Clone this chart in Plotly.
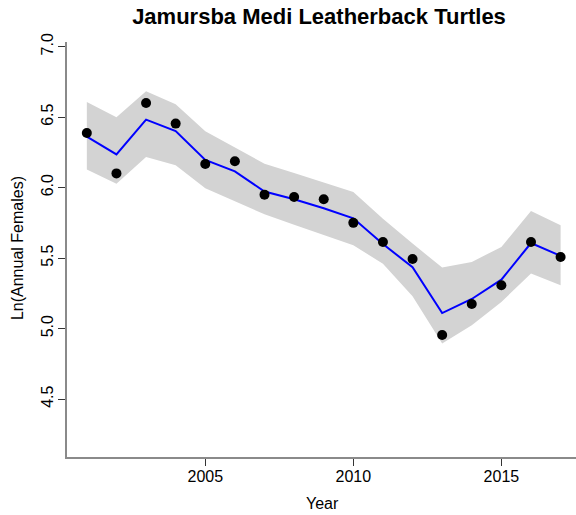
import plotly.graph_objects as go

years = list(range(2001, 2018))
observed = [6.387, 6.101, 6.600, 6.454, 6.168, 6.187, 5.950, 5.933, 5.918,
            5.750, 5.614, 5.494, 4.955, 5.174, 5.307, 5.614, 5.508]
fitted = [6.362, 6.236, 6.482, 6.401, 6.196, 6.115, 5.972, 5.918, 5.854,
          5.782, 5.600, 5.435, 5.110, 5.210, 5.347, 5.607, 5.516]
upper = [6.607, 6.500, 6.683, 6.591, 6.400, 6.286, 6.170, 6.104, 6.036,
         5.969, 5.780, 5.603, 5.433, 5.473, 5.579, 5.834, 5.733]
lower = [6.128, 6.028, 6.217, 6.158, 5.995, 5.903, 5.811, 5.736, 5.662,
         5.591, 5.460, 5.229, 4.894, 5.023, 5.189, 5.390, 5.307]

x_ticks = [2005, 2010, 2015]
y_ticks = [4.5, 5.0, 5.5, 6.0, 6.5, 7.0]

FONT = "Liberation Sans, Arial, sans-serif"

fig = go.Figure()
fig.add_trace(go.Scatter(
    x=years + years[::-1], y=upper + lower[::-1],
    fill="toself", fillcolor="#D3D3D3", line=dict(width=0),
    mode="lines", hoverinfo="skip", showlegend=False))
fig.add_trace(go.Scatter(
    x=years, y=fitted, mode="lines",
    line=dict(color="#0000FF", width=2), showlegend=False))
fig.add_trace(go.Scatter(
    x=years, y=observed, mode="markers",
    marker=dict(color="black", size=10), showlegend=False))

W, H = 576, 515
L, T, B = 66.7, 41.7, 515 - 456.7

fig.update_layout(
    width=W, height=H,
    margin=dict(l=L, r=0, t=T, b=B, pad=0),
    paper_bgcolor="white", plot_bgcolor="white",
    font=dict(family=FONT, size=16, color="black"),
    title=dict(text="<b>Jamursba Medi Leatherback Turtles</b>",
               x=319 / W, xanchor="center", xref="container",
               y=1 - 16 / H, yanchor="middle", yref="container",
               font=dict(family=FONT, size=22, color="black")),
    xaxis=dict(range=[2000.33, 2017.52], tickvals=x_ticks,
               ticktext=[str(v) for v in x_ticks],
               showgrid=False, zeroline=False,
               showline=True, linecolor="#8a8a8a", linewidth=1.5,
               ticks="outside", ticklen=7, tickcolor="#333333", tickwidth=1,
               tickfont=dict(size=16), ticklabelstandoff=-3),
    yaxis=dict(range=[4.089, 7.033], tickvals=y_ticks,
               ticktext=[f"{v:.1f}" for v in y_ticks],
               showgrid=False, zeroline=False,
               showline=True, linecolor="#8a8a8a", linewidth=1.5,
               ticks="outside", ticklen=7, tickcolor="#333333", tickwidth=1,
               tickangle=-90, tickfont=dict(size=16), ticklabelstandoff=-1),
    annotations=[
        dict(text="Year", xref="paper", yref="paper",
             x=(322 - L) / (W - L), y=0, yshift=-(503 - 456.7),
             xanchor="center", yanchor="middle", showarrow=False,
             font=dict(size=16)),
        dict(text="Ln(Annual Females)", xref="paper", yref="paper",
             x=0, xshift=-(L - 18), y=(456.7 - 247.5) / (456.7 - 41.7),
             textangle=-90,
             xanchor="center", yanchor="middle", showarrow=False,
             font=dict(size=16)),
    ],
)

fig.write_html("out.html",
               config={"displayModeBar": False},
               post_script="document.body.style.margin='0';"
                           "document.body.style.padding='0';")
